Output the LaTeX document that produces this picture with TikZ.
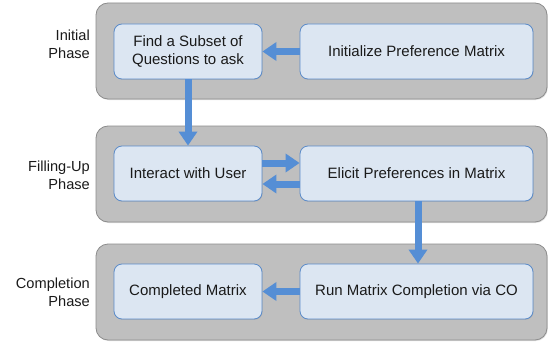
\documentclass[tikz,border=0pt]{standalone}
\usepackage{fontspec}
\setmainfont{Liberation Sans}
\usetikzlibrary{arrows.meta,shadows}
\definecolor{panelfill}{HTML}{BFBFBF}
\definecolor{paneldraw}{HTML}{8C8C8C}
\definecolor{boxfill}{HTML}{DCE6F2}
\definecolor{boxdraw}{HTML}{5B8BC9}
\definecolor{arrowc}{HTML}{558ED5}
\definecolor{txt}{HTML}{1A1A1A}
\begin{document}
\begin{tikzpicture}[x=1pt,y=-1pt,
  panel/.style={draw=paneldraw, fill=panelfill, rounded corners=12pt, line width=0.8pt,
    minimum width=451pt, minimum height=96pt, inner sep=0pt,
    drop shadow={opacity=0.25, shadow xshift=0.8pt, shadow yshift=-1pt}},
  stepbox/.style={draw=boxdraw, fill=boxfill, rounded corners=8pt, line width=0.8pt,
    minimum height=55pt, inner sep=0pt, text=txt, align=center,
    font=\fontsize{15}{18.5}\selectfont,
    drop shadow={opacity=0.25, shadow xshift=0.6pt, shadow yshift=-0.8pt}},
  narrowbox/.style={stepbox, minimum width=148pt},
  widebox/.style={stepbox, minimum width=233pt},
  phase/.style={anchor=east, align=right, inner sep=0pt, text=txt,
    font=\fontsize{14.6}{17.3}\selectfont},
  flow/.style={draw=arrowc, line width=7pt, -{Triangle[length=14pt,width=18pt]}}]
\useasboundingbox (0,0) rectangle (551,345);

\node[panel] (p1) at (321.5,51) {};
\node[panel] (p2) at (321.5,174) {};
\node[panel] (p3) at (321.5,292) {};

\node[phase] (l1) at (90,44.2) {Initial\\Phase};
\node[phase] (l2) at (90,175.2) {Filling-Up\\Phase};
\node[phase] (l3) at (90,292.2) {Completion\\Phase};

\node[narrowbox] (find) at (188,51.5) {Find a Subset of\\Questions to ask};
\node[widebox] (init) at (416.5,51.5) {Initialize Preference Matrix};
\node[narrowbox] (interact) at (188,173.5) {Interact with User};
\node[widebox] (elicit) at (416.5,173.5) {Elicit Preferences in Matrix};
\node[narrowbox] (completed) at (188,291.5) {Completed Matrix};
\node[widebox] (run) at (416.5,291.5) {Run Matrix Completion via CO};

\draw[flow] (init.west) -- (find.east);
\draw[flow] (find.south) -- (interact.north);
\draw[flow] ([yshift=10.5pt]interact.east) -- ([yshift=10.5pt]elicit.west);
\draw[flow] ([yshift=-10.5pt]elicit.west) -- ([yshift=-10.5pt]interact.east);
\draw[flow] ([xshift=1.5pt]elicit.south) -- ([xshift=1.5pt]run.north);
\draw[flow] (run.west) -- (completed.east);
\end{tikzpicture}
\end{document}
